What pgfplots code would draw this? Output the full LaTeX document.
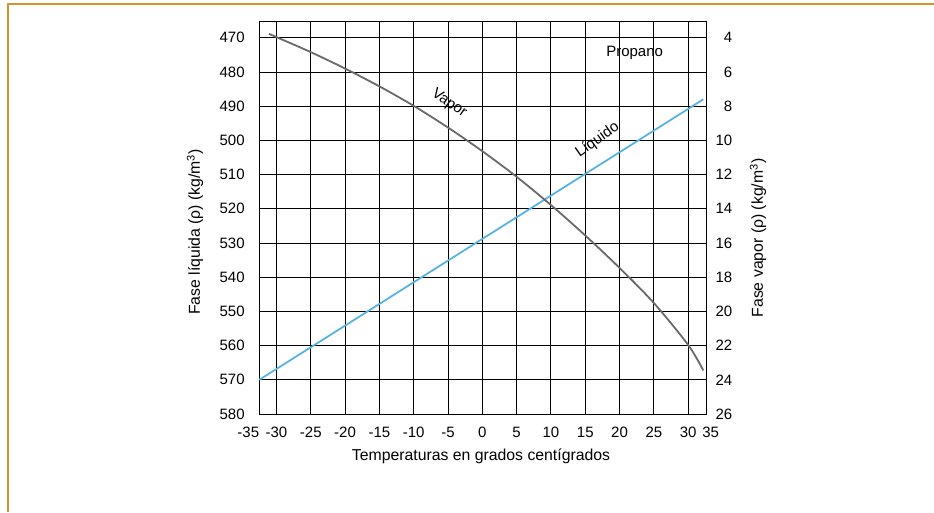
\documentclass[border=0pt]{standalone}
\usepackage{pgfplots}
\pgfplotsset{compat=1.18}
\usepackage{fontspec}
\setmainfont{Liberation Sans}
\definecolor{frameorange}{RGB}{212,146,48}
\definecolor{liqblue}{RGB}{86,180,228}
\definecolor{vapgray}{RGB}{105,105,105}
\newcommand{\lblfont}{\fontsize{15}{18}\selectfont}
\newcommand{\axlblfont}{\fontsize{15.8}{19}\selectfont}
\pgfplotsset{
  common/.style={
    scale only axis,
    width=447.4pt, height=392.3pt,
    at={(259.3pt,98pt)}, anchor=south west,
    xmin=-32.5, xmax=32.7,
    xtick={-32.5,-30,-25,-20,-15,-10,-5,0,5,10,15,20,25,30,32.7},
    major tick length=0pt,
    axis line style={black, line width=0.9pt},
    /pgf/number format/assume math mode=true,
    ticklabel style={font=\lblfont, inner sep=0pt},
  }
}
\begin{document}
\begin{tikzpicture}[x=1pt,y=1pt]
\path[use as bounding box] (0,0) rectangle (934,512);
\draw[frameorange, line width=1.6pt] (934,508) -- (8,508) -- (8,0);
\begin{axis}[common,
  ymin=465.3, ymax=580, y dir=reverse,
  ytick={470,480,...,580},
  grid=major,
  grid style={black, line width=0.9pt},
  xticklabels={{\makebox[0pt]{\hspace*{-22pt}-35}},-30,-25,-20,-15,-10,-5,0,5,10,15,20,25,30,{\makebox[0pt]{\hspace*{8pt}35}}},
  xticklabel style={anchor=north, yshift=-12.5pt},
  yticklabel style={anchor=east, xshift=-14.5pt},
  clip=false,
]
\addplot[liqblue, line width=1.8pt] coordinates {(-32.5,570) (32.2,488)};
\node[font=\lblfont, rotate=-35] at (axis cs:-4.84,489.2) {Vapor};
\node[font=\lblfont, rotate=35] at (axis cs:16.8,499.9) {Líquido};
\node[font=\lblfont] at (axis cs:22.2,474.3) {Propano};
\end{axis}
\begin{axis}[common,
  axis x line=none,
  axis y line*=right,
  ymin=3.06, ymax=26, y dir=reverse,
  ytick={4,6,...,26},
  yticklabel style={anchor=east, xshift=25.8pt},
]
\addplot[vapgray, line width=1.8pt, smooth] coordinates {
  (-31.1,3.77) (-30,3.96) (-25,4.84) (-20,5.80) (-15,6.84) (-10,7.98)
  (-5,9.25) (0,10.63) (5,12.13) (10,13.78) (15,15.56) (20,17.46)
  (25,19.51) (30,21.96) (32.2,23.45)};
\end{axis}
\node[font=\axlblfont] at (481,56) {Temperaturas en grados centígrados};
\node[font=\axlblfont, rotate=90] at (195,280) {Fase líquida (ρ) (kg/m\textsuperscript{3})};
\node[font=\axlblfont, rotate=90] at (758,274) {Fase vapor (ρ) (kg/m\textsuperscript{3})};
\end{tikzpicture}
\end{document}
